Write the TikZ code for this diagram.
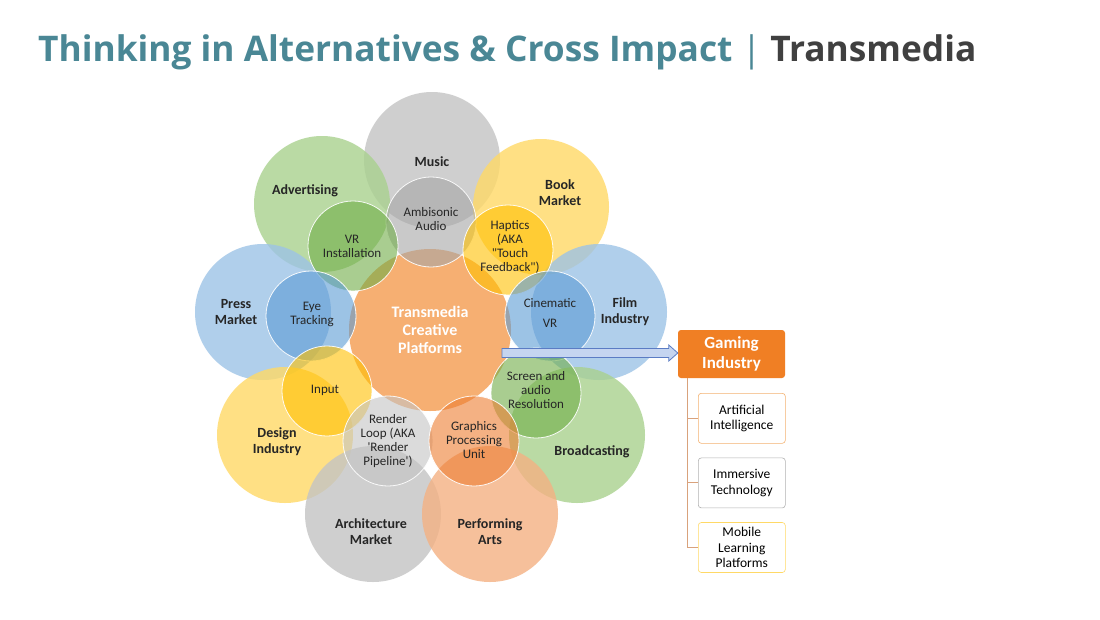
\documentclass[tikz,border=0pt]{standalone}
\usepackage{fontspec}
\setmainfont{Carlito}[Ligatures=TeXOff]
\newfontfamily\titlefont{Open Sans}
\usetikzlibrary{arrows.meta,positioning,calc}

\definecolor{titleteal}{HTML}{4A8795}
\definecolor{titlegray}{HTML}{404040}
\definecolor{cgray}{HTML}{C4C4C4}
\definecolor{cgreen}{HTML}{A9D18E}
\definecolor{cyellow}{HTML}{FFD966}
\definecolor{cblue}{HTML}{9DC3E6}
\definecolor{corange}{HTML}{F4B183}
\definecolor{centreorange}{HTML}{F5A45F}
\definecolor{igray}{HTML}{A6A6A6}
\definecolor{igreen}{HTML}{70AD47}
\definecolor{iyellow}{HTML}{FFC000}
\definecolor{iblue}{HTML}{5B9BD5}
\definecolor{iorange}{HTML}{ED7D31}
\definecolor{gamingorange}{HTML}{F07F24}
\definecolor{treeline}{HTML}{D9A27C}
\definecolor{arrowline}{HTML}{5B7CC4}
\definecolor{arrowfill}{HTML}{C5D5F0}

\begin{document}
\begin{tikzpicture}[
  x=1pt, y=-1pt,
  every node/.style={align=center},
  outer/.style={circle,minimum size=136pt,inner sep=0pt,fill opacity=0.8,draw=none},
  inner/.style={circle,minimum size=90pt,inner sep=0pt,fill opacity=0.6,draw=white,draw opacity=0.9,line width=0.8pt},
  big/.style={font=\bfseries\fontsize{14}{16}\selectfont,text=black!85},
  small/.style={font=\fontsize{13}{14}\selectfont,text=black!85},
  sub/.style={draw,rounded corners=3pt,minimum width=87pt,minimum height=50pt,
              font=\fontsize{13.5}{15.5}\selectfont,fill=white,line width=0.6pt},
  branch/.style={treeline,line width=1pt}
]
\useasboundingbox (0,0) rectangle (1100,619);
\fill[white] (0,0) rectangle (1100,619);

% --- title ---
\node[anchor=base west,inner sep=0pt,font=\titlefont\bfseries\fontsize{35.3}{40}\selectfont] (title) at (38,61)
  {\textcolor{titleteal}{Thinking in Alternatives \& Cross Impact {\mdseries|}} \textcolor{titlegray}{Transmedia}};

% --- outer ring ---
\node[outer,fill=cgray]   (music)  at (432,160) {};
\node[outer,fill=cgreen]  (adv)    at (322,204) {};
\node[outer,fill=cyellow] (book)   at (541,207) {};
\node[outer,fill=cblue]   (press)  at (263,312) {};
\node[outer,fill=cblue]   (film)   at (599,312) {};
\node[outer,fill=cyellow] (design) at (285,435) {};
\node[outer,fill=cgreen]  (broad)  at (577,435) {};
\node[outer,fill=cgray]   (arch)   at (373,514) {};
\node[outer,fill=corange] (perf)   at (490,514) {};
% --- centre ---
\node[circle,minimum size=162pt,inner sep=0pt,fill=centreorange,fill opacity=0.88] (tcp) at (430,330) {};
% --- inner ring ---
\node[inner,fill=igray]   (ambi)   at (431,222) {};
\node[inner,fill=igreen]  (vrinst) at (353,246) {};
\node[inner,fill=iyellow] (hapt)   at (508,250) {};
\node[inner,fill=iblue]   (eye)    at (311,316) {};
\node[inner,fill=iblue]   (cine)   at (550,316) {};
\node[inner,fill=iyellow] (input)  at (327,391) {};
\node[inner,fill=igreen]  (screen) at (536,393) {};
\node[inner,fill=cgray]   (render) at (388,441) {};
\node[inner,fill=iorange] (gpu)    at (474,441) {};

% --- labels ---
\node[big] (lmusic)  at (432,162) {Music};
\node[big] (ladv)    at (305,191) {Advertising};
\node[big] (lbook)   at (560,193) {Book\\Market};
\node[big] (lpress)  at (236,312) {Press\\Market};
\node[big] (lfilm)   at (625,312) {Film\\Industry};
\node[big] (ldesign) at (277,442) {Design\\Industry};
\node[big] (lbroad)  at (592,452) {Broadcasting};
\node[big] (larch)   at (371,532) {Architecture\\Market};
\node[big] (lperf)   at (490,532) {Performing\\Arts};
\node[font=\bfseries\fontsize{16}{18}\selectfont,text=white] (ltcp) at (430,330) {Transmedia\\Creative\\Platforms};
\node[small] (lambi)   at (431,219) {Ambisonic\\Audio};
\node[small] (lvr)     at (352,246) {VR\\Installation};
\node[small] (lhapt)   at (510,247) {Haptics\\(AKA\\"Touch\\Feedback")};
\node[small] (leye)    at (312,314) {Eye\\Tracking};
\node[small,font=\fontsize{13}{20}\selectfont] (lcine) at (550,313) {Cinematic\\VR};
\node[small] (linput)  at (325,390) {Input};
\node[small] (lscreen) at (536,390) {Screen and\\audio\\Resolution};
\node[small] (lrender) at (388,441) {Render\\Loop (AKA\\'Render\\Pipeline')};
\node[small] (lgpu)    at (474,440) {Graphics\\Processing\\Unit};

% --- gaming tree ---
\node[draw=none,fill=gamingorange,rounded corners=3pt,minimum width=107pt,minimum height=48pt,
      text=white,font=\bfseries\fontsize{17}{20}\selectfont] (gaming) at (731.5,354) {Gaming\\Industry};
\node[sub,draw=orange!70!brown!60,anchor=north west] (ai)  at (698,393) {Artificial\\Intelligence};
\node[sub,draw=gray!60,below=14pt of ai.south west,anchor=north west] (imm) {Immersive\\Technology};
\node[sub,draw=cyellow,below=14pt of imm.south west,anchor=north west] (mob) {Mobile\\Learning\\Platforms};
\coordinate (trunk) at ($(gaming.south west)+(10,0)$);
\draw[branch] (trunk) |- (mob.west);
\draw[branch] (trunk |- ai.west) -- (ai.west);
\draw[branch] (trunk |- imm.west) -- (imm.west);

% --- arrow from centre to gaming ---
\coordinate (a0) at (502,353);
\draw[arrowline,line width=0.8pt,fill=arrowfill]
  ($(a0)+(0,-4.5)$) -- ($(gaming.west |- a0)+(-9,-4.5)$) -- ($(gaming.west |- a0)+(-9,-8)$)
  -- (gaming.west |- a0) -- ($(gaming.west |- a0)+(-9,8)$) -- ($(gaming.west |- a0)+(-9,4.5)$)
  -- ($(a0)+(0,4.5)$) -- cycle;
\end{tikzpicture}
\end{document}
